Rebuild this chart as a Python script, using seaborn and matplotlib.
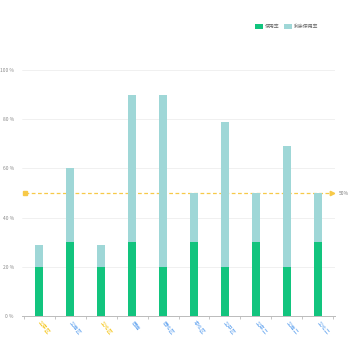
import matplotlib
matplotlib.use("Agg")
import matplotlib.pyplot as plt
import seaborn as sns
import pandas as pd

categories = ["华东区", "华南区", "华北区", "西南", "西北区", "东北区", "华中区", "华东二", "华南二", "华北二"]
used = [20, 30, 20, 30, 20, 30, 20, 30, 20, 30]
remaining = [9, 30, 9, 60, 70, 20, 59, 20, 49, 20]
label_colors = ["#f5c518", "#6aa8f0", "#f5c518", "#6aa8f0", "#6aa8f0",
                "#6aa8f0", "#6aa8f0", "#6aa8f0", "#6aa8f0", "#6aa8f0"]
series_names = ["使用率", "剩余使用率"]
threshold = 50
y_ticks = [0, 20, 40, 60, 80, 100]

GREEN = "#12c47e"
TEAL = "#9fd7d7"
GOLD = "#f7c948"

sns.set_theme(style="white")
plt.rcParams["font.family"] = ["Noto Sans CJK SC", "DejaVu Sans"]

df = pd.DataFrame({"cat": categories, "used": used,
                   "total": [u + r for u, r in zip(used, remaining)]})

fig = plt.figure(figsize=(3.5, 3.5), dpi=100)
ax = fig.add_axes([0.063, 0.097, 0.894, 0.703])

sns.barplot(data=df, x="cat", y="total", color=TEAL, width=0.24,
            saturation=1, ax=ax, label=series_names[1], zorder=3)
sns.barplot(data=df, x="cat", y="used", color=GREEN, width=0.24,
            saturation=1, ax=ax, label=series_names[0], zorder=3)
for p in ax.patches:
    p.set_linewidth(0)

ax.set_ylim(0, 100)
ax.set_xlim(-0.55, len(categories) - 0.45)
ax.set_yticks(y_ticks)
ax.set_yticklabels([f"{v} %" for v in y_ticks], fontsize=3.5, color="#888888")
ax.yaxis.grid(True, color="#eeeeee", linewidth=0.6)
ax.set_axisbelow(True)
ax.tick_params(axis="y", length=0, pad=6)

ax.set_xticks(range(len(categories)))
ax.set_xticklabels(categories, rotation=-50, ha="left", va="center",
                   rotation_mode="anchor", fontsize=3.8)
for lbl, c in zip(ax.get_xticklabels(), label_colors):
    lbl.set_color(c)
ax.set_xticks([i + 0.5 for i in range(-1, len(categories))], minor=True)
ax.tick_params(axis="x", which="major", length=0, pad=4)
ax.tick_params(axis="x", which="minor", length=2.5, color="#bbbbbb", width=0.6, bottom=True)

for s in ["top", "right", "left"]:
    ax.spines[s].set_visible(False)
ax.spines["bottom"].set_color("#bbbbbb")
ax.spines["bottom"].set_linewidth(0.7)
ax.set_xlabel("")
ax.set_ylabel("")

# threshold line with caps, drawn beneath the bars
x0, x1 = -0.45, len(categories) - 0.55
ax.plot([x0, x1], [threshold, threshold], color=GOLD, linestyle=(0, (3, 2)),
        linewidth=0.9, zorder=2)
ax.plot([x0], [threshold], marker="s", markersize=2.2, color=GOLD, zorder=2)
ax.plot([x1], [threshold], marker=">", markersize=3.2, color=GOLD, zorder=2)
ax.text(x1 + 0.22, threshold, f"{threshold}%", fontsize=3.5, color="#777777",
        va="center", ha="left")

handles, labels = ax.get_legend_handles_labels()
order = [labels.index(n) for n in series_names]
ax.legend([handles[i] for i in order], [labels[i] for i in order],
          loc="upper left", bbox_to_anchor=(0.73, 1.205), ncol=2, frameon=False,
          fontsize=3.5, handlelength=1.6, handleheight=1.1, columnspacing=1.0,
          handletextpad=0.4, labelcolor="#666666")

fig.savefig("out.png", dpi=100)
